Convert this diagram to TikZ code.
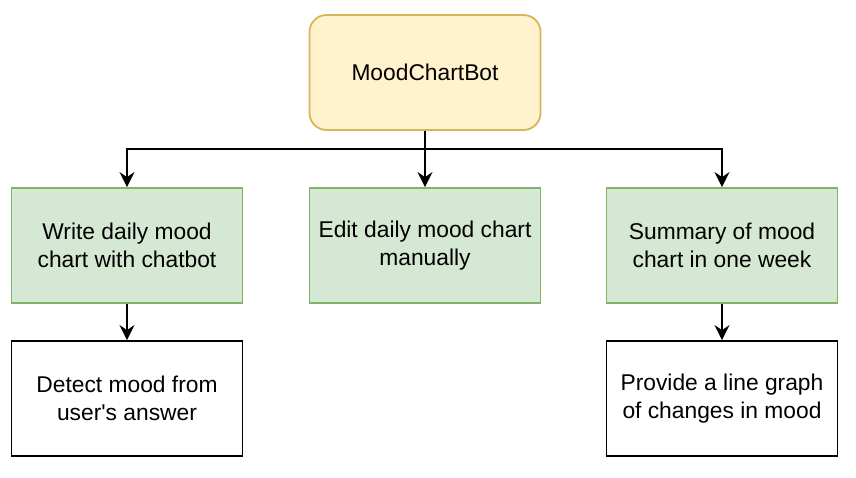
\documentclass[tikz,border=0pt]{standalone}
\usepackage{fontspec}
\setmainfont{Liberation Sans}
\usetikzlibrary{arrows.meta}
\usepackage{xcolor}
\definecolor{xyellow}{HTML}{FFF2CC}
\definecolor{xyellowline}{HTML}{D6B656}
\definecolor{xgreen}{HTML}{D5E8D4}
\definecolor{xgreenline}{HTML}{82B366}
\tikzset{
	box/.style={draw, line width=1.8pt, minimum width=231pt, minimum height=115pt, align=center, font=\fontsize{22.8}{28}\selectfont},
	rootbox/.style={box, rounded corners=17pt, fill=xyellow, draw=xyellowline},
	featbox/.style={box, fill=xgreen, draw=xgreenline},
	detailbox/.style={box, fill=white, draw=black},
	link/.style={line width=1.6pt, -{Stealth[length=15pt, width=15pt, inset=5pt]}},
}

\begin{document}
\begin{tikzpicture}[x=1pt, y=-1pt]
		\useasboundingbox (0,0) rectangle (856,478);

		\node[rootbox] (bot) at (425,72.5) {MoodChartBot};

		\node[featbox] (write) at (127,245.5) {Write daily mood\\chart with chatbot};
		\node[featbox] (edit) at (425,245.5) {Edit daily mood chart\\manually};
		\node[featbox] (summary) at (722,245.5) {Summary of mood\\chart in one week};

		\node[detailbox] (detect) at (127,398.5) {Detect mood from\\user\textquotesingle s answer};
		\node[detailbox] (graph) at (722,398.5) {Provide a line graph\\of changes in mood};

		\coordinate (split) at (425,149);
		\draw[link] (bot.south) -- (split) -| (write.north);
		\draw[link] (bot.south) -- (edit.north);
		\draw[link] (bot.south) -- (split) -| (summary.north);
		\draw[link] (write) -- (detect);
		\draw[link] (summary) -- (graph);
	\end{tikzpicture}
\end{document}
